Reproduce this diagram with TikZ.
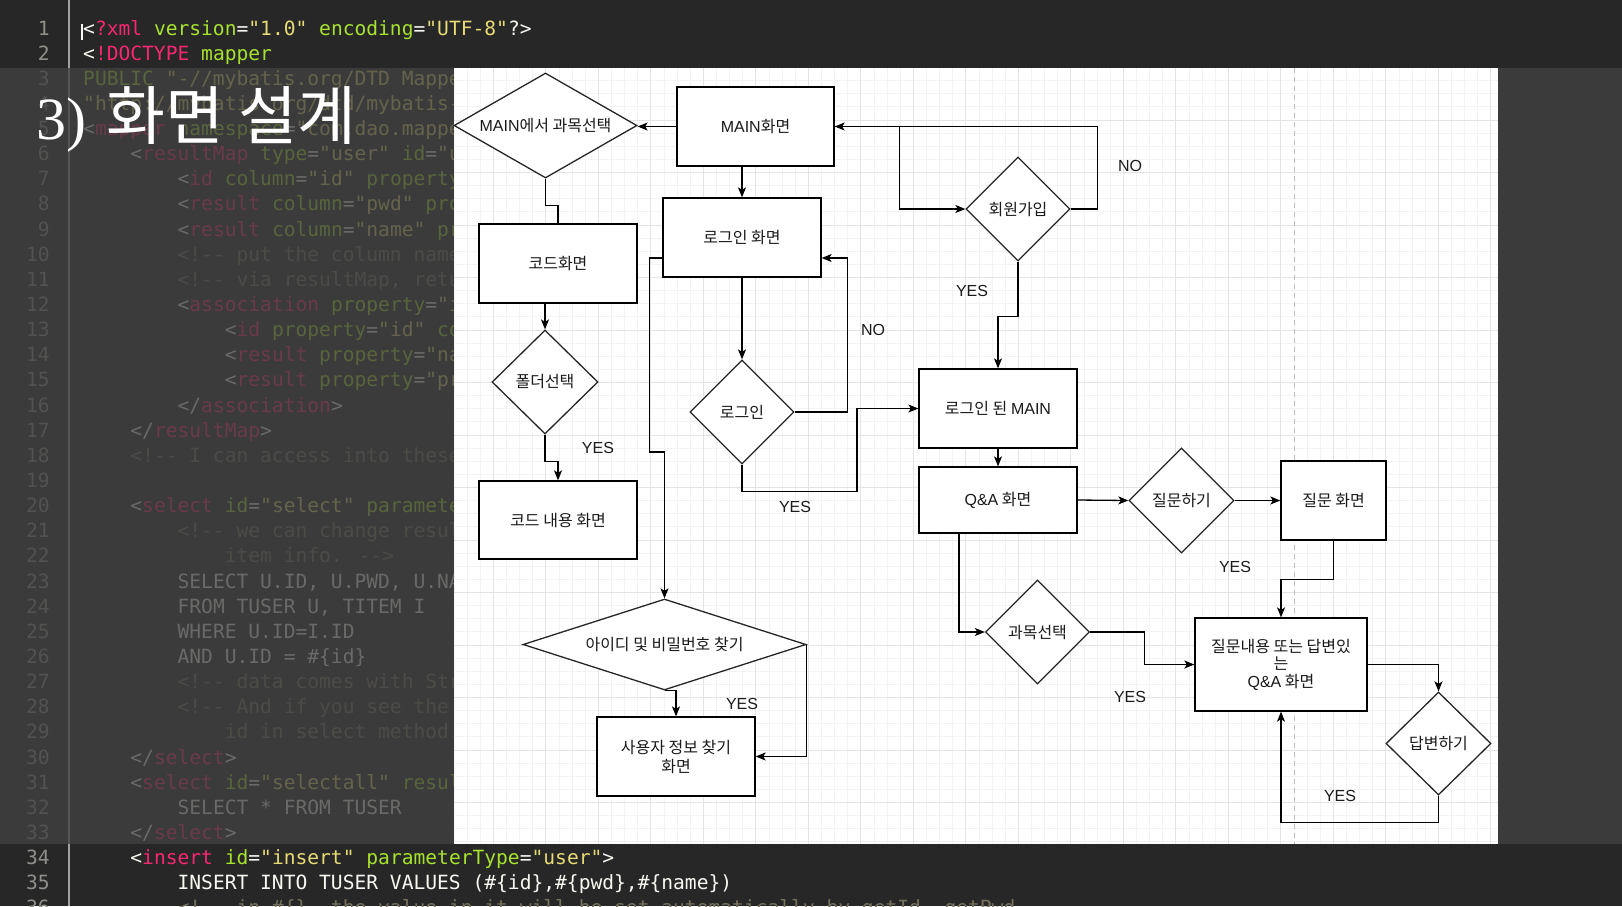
\documentclass[tikz,border=0pt]{standalone}
\usepackage{fontspec}
\setmainfont{Liberation Sans}
\newfontfamily\kr{Noto Sans CJK KR}
\newfontfamily\la{Liberation Sans}
\newfontfamily\cd{DejaVu Sans Mono}
\newfontfamily\ser{Liberation Serif}
\usetikzlibrary{shapes.geometric,arrows.meta,calc}
\definecolor{edbg}{HTML}{272727}
\definecolor{ovl}{HTML}{414141}
\definecolor{mkpink}{HTML}{F92672}
\definecolor{mkgreen}{HTML}{A6E22E}
\definecolor{mkyellow}{HTML}{E6DB74}
\definecolor{mkwhite}{HTML}{F8F8F2}
\definecolor{mkgray}{HTML}{75715E}
\definecolor{lnum}{HTML}{8F908A}
\definecolor{gutter}{HTML}{A0A0A0}
\definecolor{gmin}{HTML}{F3F3F3}
\definecolor{gmaj}{HTML}{E4E4E4}
\definecolor{ink}{HTML}{1A1A1A}
\definecolor{dashc}{HTML}{BDBDBD}
\newcommand\cTg[1]{\textcolor{mkpink}{#1}}
\newcommand\cAt[1]{\textcolor{mkgreen}{#1}}
\newcommand\cSt[1]{\textcolor{mkyellow}{#1}}
\newcommand\cCm[1]{\textcolor{mkgray}{#1}}
\newcommand\codeln[3]{%
  \node[lnstyle] (n#1) at (50,{35+25.14*(#1-1)}) {#1};
  \node[codetext] (c#1) at ({83+11.8*#2},{35+25.14*(#1-1)}) {#3};}
\begin{document}
\begin{tikzpicture}[x=1pt,y=-1pt,
  codetext/.style={anchor=base west,inner sep=0pt,font=\cd\fontsize{19.6}{24}\selectfont,text=mkwhite},
  lnstyle/.style={anchor=base east,inner sep=0pt,font=\cd\fontsize{19.6}{24}\selectfont,text=lnum},
  fbox/.style={draw=black,fill=white,line width=1.3pt,inner sep=2pt,align=center,
    font=\kr\fontsize{16}{19}\selectfont,text=ink},
  fdia/.style={diamond,aspect=1,draw=black!85,fill=white,line width=1.3pt,inner sep=0pt,align=center,
    font=\kr\fontsize{16}{19}\selectfont,text=ink},
  lbl/.style={inner sep=0pt,font=\la\fontsize{16}{19}\selectfont,text=ink},
  conn/.style={draw=black,line width=1.3pt},
  arr/.style={conn,-{Stealth[length=10pt,width=8pt,inset=2.5pt]}},
  dashline/.style={draw=dashc,line width=1pt,dash pattern=on 5pt off 4pt}]
\useasboundingbox (0,0) rectangle (1622,906);
\clip (0,0) rectangle (1622,906);
\fill[edbg] (0,0) rectangle (1622,906);
% gutter
\draw[gutter,line width=1.5pt] (69,0) -- (69,906);
\draw[mkwhite,line width=1.2pt] (82,24) -- (82,40);
% code
\codeln{1}{0}{<\cTg{?xml} \cAt{version}=\cSt{"1.0"} \cAt{encoding}=\cSt{"UTF-8"}?>}
\codeln{2}{0}{<\cTg{!DOCTYPE} \cAt{mapper}}
\codeln{3}{0}{\cAt{PUBLIC} \cSt{"-//mybatis.org/DTD Mappe}}
\codeln{4}{0}{\cSt{"http://mybatis.org/dtd/mybatis-}}
\codeln{5}{0}{<\cTg{mapper} \cAt{namespace}=\cSt{"com.dao.mappe}}
\codeln{6}{4}{<\cTg{resultMap} \cAt{type}=\cSt{"user"} \cAt{id}=\cSt{"u}}
\codeln{7}{8}{<\cTg{id} \cAt{column}=\cSt{"id"} \cAt{property}}
\codeln{8}{8}{<\cTg{result} \cAt{column}=\cSt{"pwd"} \cAt{pro}}
\codeln{9}{8}{<\cTg{result} \cAt{column}=\cSt{"name"} \cAt{pr}}
\codeln{10}{8}{\cCm{<!-{}- put the column name}}
\codeln{11}{8}{\cCm{<!-{}- via resultMap, retu}}
\codeln{12}{8}{<\cTg{association} \cAt{property}=\cSt{"i}}
\codeln{13}{12}{<\cTg{id} \cAt{property}=\cSt{"id"} \cAt{co}}
\codeln{14}{12}{<\cTg{result} \cAt{property}=\cSt{"na}}
\codeln{15}{12}{<\cTg{result} \cAt{property}=\cSt{"pr}}
\codeln{16}{8}{</\cTg{association}>}
\codeln{17}{4}{</\cTg{resultMap}>}
\codeln{18}{4}{\cCm{<!-{}- I can access into these}}
\codeln{19}{4}{}
\codeln{20}{4}{<\cTg{select} \cAt{id}=\cSt{"select"} \cAt{paramete}}
\codeln{21}{8}{\cCm{<!-{}- we can change resul}}
\codeln{22}{12}{\cCm{item info. -{}->}}
\codeln{23}{8}{SELECT U.ID, U.PWD, U.NA}
\codeln{24}{8}{FROM TUSER U, TITEM I}
\codeln{25}{8}{WHERE U.ID=I.ID}
\codeln{26}{8}{AND U.ID = \#\{id\}}
\codeln{27}{8}{\cCm{<!-{}- data comes with Str}}
\codeln{28}{8}{\cCm{<!-{}- And if you see the}}
\codeln{29}{12}{\cCm{id in select method.}}
\codeln{30}{4}{</\cTg{select}>}
\codeln{31}{4}{<\cTg{select} \cAt{id}=\cSt{"selectall"} \cAt{resul}}
\codeln{32}{8}{SELECT * FROM TUSER}
\codeln{33}{4}{</\cTg{select}>}
\codeln{34}{4}{<\cTg{insert} \cAt{id}=\cSt{"insert"} \cAt{parameterType}=\cSt{"user"}>}
\codeln{35}{8}{INSERT INTO TUSER VALUES (\#\{id\},\#\{pwd\},\#\{name\})}
\codeln{36}{8}{\cCm{<!-{}- in \#\{\}, the value in it will be set automatically by getId, getPwd}}
% dimming overlay
\fill[ovl,opacity=0.775] (0,68) rectangle (1622,844);
% title
\node[anchor=base west,inner sep=0pt,text=white] (title) at (36,139)
  {{\ser\fontsize{60}{62}\selectfont 3)}\hspace{20pt}{\kr\fontsize{64}{66}\selectfont 화면 설계}};
% panel
\fill[white] (454,68) rectangle (1498,844);
\begin{scope}
\clip (454,68) rectangle (1498,844);
\foreach \i in {0,...,80} \draw[gmin,line width=0.8pt] ({454+13.125*\i},68) -- ++(0,776);
\foreach \j in {0,...,60} \draw[gmin,line width=0.8pt] (454,{67.5+13.125*\j}) -- ++(1044,0);
\foreach \i in {0,...,20} \draw[gmaj,line width=0.9pt] ({440.7+52.5*\i},68) -- ++(0,776);
\foreach \j in {0,...,15} \draw[gmaj,line width=0.9pt] (454,{67.5+52.5*\j}) -- ++(1044,0);
\end{scope}
\coordinate (dtop) at (1294,68);
\coordinate (dbot) at (1294,844);
\draw[dashline] (dtop) -- (dbot);
% flowchart nodes
\node[fdia,aspect=1.743,minimum width=183pt,minimum height=105pt] (d1) at (545.5,125.5) {{\la MAIN}에서 과목선택};
\node[fbox,minimum width=157pt,minimum height=79pt] (b1) at (755.5,126.5) {{\la MAIN}화면};
\node[fbox,minimum width=158pt,minimum height=79pt] (b2) at (742,237.5) {로그인 화면};
\node[fbox,minimum width=158pt,minimum height=79pt] (b3) at (558,263.5) {코드화면};
\node[fdia,minimum width=106pt,minimum height=104pt] (d2) at (545,382) {폴더선택};
\node[fbox,minimum width=158pt,minimum height=78pt] (b4) at (558,520) {코드 내용 화면};
\node[fdia,minimum width=104pt,minimum height=104pt] (d3) at (742,412) {로그인};
\node[fdia,minimum width=104pt,minimum height=104pt] (d4) at (1018,209) {회원가입};
\node[fbox,minimum width=158pt,minimum height=79pt] (b5) at (998,408.5) {로그인 된 {\la MAIN}};
\node[fbox,minimum width=158pt,minimum height=66pt] (b6) at (998,500) {{\la Q\&A} 화면};
\node[fdia,minimum width=105pt,minimum height=105pt] (d5) at (1181.5,500.5) {질문하기};
\node[fbox,minimum width=105pt,minimum height=79pt] (b7) at (1333.5,500.5) {질문 화면};
\node[fdia,minimum width=104pt,minimum height=104pt] (d6) at (1037.5,632) {과목선택};
\node[fbox,minimum width=172pt,minimum height=93pt,font=\kr\fontsize{16}{17.5}\selectfont] (b8) at (1281,664.5)
  {질문내용 또는 답변있\\는\\{\la Q\&A} 화면};
\node[fdia,minimum width=105pt,minimum height=103pt] (d7) at (1438.5,743.5) {답변하기};
\node[fdia,aspect=3.11,minimum width=283pt,minimum height=91pt] (d8) at (664.5,644.5) {아이디 및 비밀번호 찾기};
\node[fbox,minimum width=158pt,minimum height=79pt] (b9) at (676,756.5) {사용자 정보 찾기\\화면};
% labels
\node[lbl] (l1) at (598,448) {YES};
\node[lbl] (l2) at (873,330) {NO};
\node[lbl] (l3) at (795,507) {YES};
\node[lbl] (l4) at (1130,166) {NO};
\node[lbl] (l5) at (972,291) {YES};
\node[lbl] (l6) at (1235,567) {YES};
\node[lbl] (l7) at (1130,697) {YES};
\node[lbl] (l8) at (1340,796) {YES};
\node[lbl] (l9) at (742,704) {YES};
% connectors
\draw[arr] (b1.west) -- (b1.west -| d1.east);
\draw[conn] (d1.south) -- ++(0,27) -| (b3.north);
\draw[arr] (b1.south -| b2.north) -- (b2.north);
\draw[arr] (b3.south -| d2.north) -- (d2.north);
\draw[arr] (d2.south) -- ++(0,27) -| (b4.north);
\draw[arr] (b2.south) -- (d3.north);
\draw[arr] (d3.east) -- ++(53,0) |- ([yshift=-20.5pt]b2.east);
\draw[arr] ([yshift=-20.5pt]b2.west) -- ++(-13,0) -- ++(0,194) -| (d8.north);
\draw[arr] (d3.south) -- ++(0,27) -- ++(115,0) |- (b5.west);
\draw[arr] (b1.east) -- ++(65,0) |- (d4.west);
\draw[arr] (d4.east) -- ++(27,0) |- (b1.east);
\draw[arr] (d4.south) -- ++(0,55) -| (b5.north);
\draw[arr] (b5.south) -- (b6.north);
\draw[arr] (b6.east) -- (d5.west);
\draw[arr] (d5.east) -- (b7.west);
\draw[arr] (b7.south) -- ++(0,39) -| (b8.north);
\draw[arr] ([xshift=-39pt]b6.south) |- (d6.west);
\draw[arr] (d6.east) -- ++(54,0) |- (b8.west);
\draw[arr] (b8.east) -| (d7.north);
\draw[arr] (d7.south) -- ++(0,27) -| (b8.south);
\draw[arr] (d8.south) -| (b9.north);
\draw[arr] (d8.east) |- (b9.east);
\end{tikzpicture}
\end{document}
